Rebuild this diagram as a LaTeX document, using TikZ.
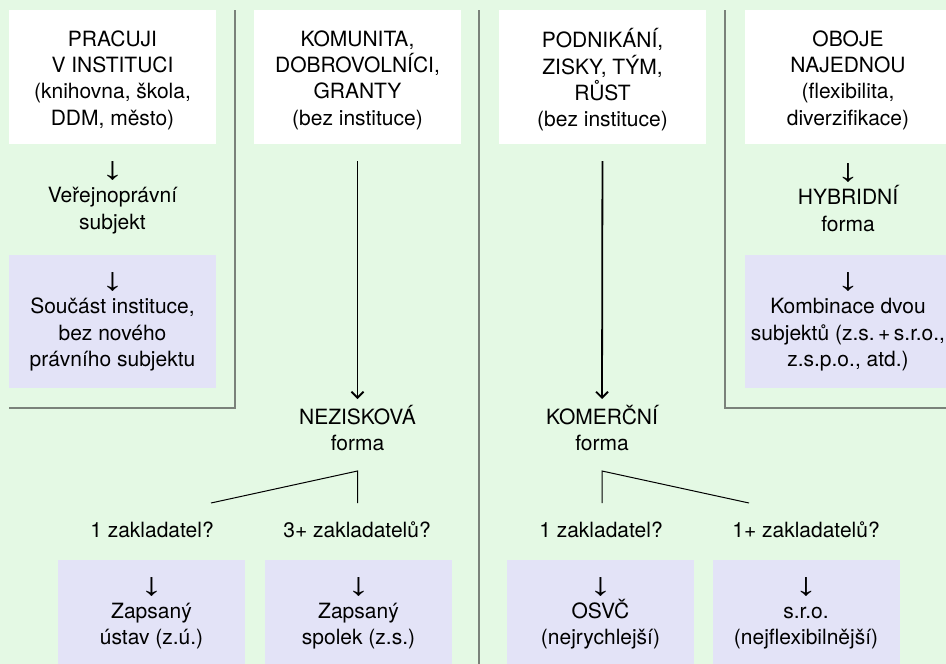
\documentclass[tikz,border=0pt]{standalone}
\usepackage{fontspec}
\usepackage{graphicx}
\setmainfont{TeX Gyre Heros}
\newfontfamily\arrowfont{Liberation Sans}
\usetikzlibrary{arrows.meta}
\definecolor{bg}{HTML}{E4F9E4}
\definecolor{lav}{HTML}{E3E3F7}
\definecolor{rulegray}{HTML}{7A827A}
\newcommand{\dn}{\vphantom{A}\smash{\raisebox{-3pt}{\scalebox{1.4}[1]{\arrowfont\fontsize{32}{32}\selectfont ↓}}}}
\begin{document}
\begin{tikzpicture}[x=1pt,y=-1pt,
  every node/.style={font=\fontsize{21}{26.3}\selectfont, align=center, inner sep=0pt, text=black},
  whitebox/.style={fill=white, minimum width=207pt, minimum height=134pt},
  lavbox/.style={fill=lav, minimum width=207pt, minimum height=133pt},
  lavsmall/.style={fill=lav, minimum width=187pt, minimum height=107pt},
  divider/.style={draw=rulegray, line width=1.5pt},
  longarrow/.style={line width=1.8pt, -{Straight Barb[length=6pt,width=12pt]}},
  fork/.style={line width=1pt}]
\clip (0,0) rectangle (946,664);
\fill[bg] (0,0) rectangle (946,664);

% dividers
\draw[divider] (235,10) -- (235,408) -- (9,408);
\draw[divider] (479,10) -- (479,664);
\draw[divider] (725,10) -- (725,408) -- (946,408);

% top white boxes
\node[whitebox] (w1) at (112.5,77) {};
\node[whitebox] (w2) at (357.5,77) {};
\node[whitebox] (w3) at (602.5,77) {};
\node[whitebox] (w4) at (848,77) {};
\node (t1) at ([yshift=-3pt]w1.center) {PRACUJI\\V INSTITUCI\\(knihovna, škola,\\DDM, město)};
\node (t2) at ([yshift=-3pt]w2.center) {KOMUNITA,\\DOBROVOLNÍCI,\\GRANTY\\(bez instituce)};
\node (t3) at ([yshift=-3pt]w3.center) {PODNIKÁNÍ,\\ZISKY, TÝM,\\RŮST\\(bez instituce)};
\node (t4) at ([yshift=-3pt]w4.center) {OBOJE\\NAJEDNOU\\(flexibilita,\\diverzifikace)};

% column 1
\node (v1) at (112.5,197.5) {\dn\\Veřejnoprávní\\subjekt};
\node[lavbox] (l1) at (112.5,321.5) {};
\node (lt1) at ([yshift=0pt]l1.center) {\dn\\Součást instituce,\\bez nového\\právního subjektu};

% column 4
\node (h4) at (848,197.5) {\dn\\HYBRIDNÍ\\forma};
\node[lavbox] (l4) at (848,321.5) {};
\node (lt4) at ([yshift=0pt]l4.center) {\dn\\Kombinace dvou\\subjektů (z.s.\,+\,s.r.o.,\\z.s.p.o., atd.)};

% column 2
\node[anchor=north] (n1) at (357.5,405) {NEZISKOVÁ\\forma};
\draw[longarrow, shorten <=17pt, shorten >=6pt] (w2.south) -- (n1.north);
\coordinate (f1) at (357.5,471);
\coordinate (f1l) at (211,503);
\coordinate (f1r) at (357.5,503);
\draw[fork] (f1l) -- (f1) -- (f1r);
\node (q1) at (152,530) {1 zakladatel?};
\node (q2) at (357,530) {3+ zakladatelů?};
\node[lavsmall] (b1) at (151.5,613) {\dn\\Zapsaný\\ústav (z.ú.)};
\node[lavsmall] (b2) at (358.5,613) {\dn\\Zapsaný\\spolek (z.s.)};

% column 3
\node[anchor=north] (k1) at (602,405) {KOMERČNÍ\\forma};
\draw[longarrow, shorten <=17pt, shorten >=6pt] (w3.south) -- (k1.north);
\coordinate (f2) at (602,471);
\coordinate (f2l) at (602,503);
\coordinate (f2r) at (749,503);
\draw[fork] (f2l) -- (f2) -- (f2r);
\node (q3) at (601,530) {1 zakladatel?};
\node (q4) at (806,530) {1+ zakladatelů?};
\node[lavsmall] (b3) at (600.5,613) {\dn\\OSVČ\\(nejrychlejší)};
\node[lavsmall] (b4) at (806,613) {\dn\\s.r.o.\\(nejflexibilnější)};
\end{tikzpicture}
\end{document}
